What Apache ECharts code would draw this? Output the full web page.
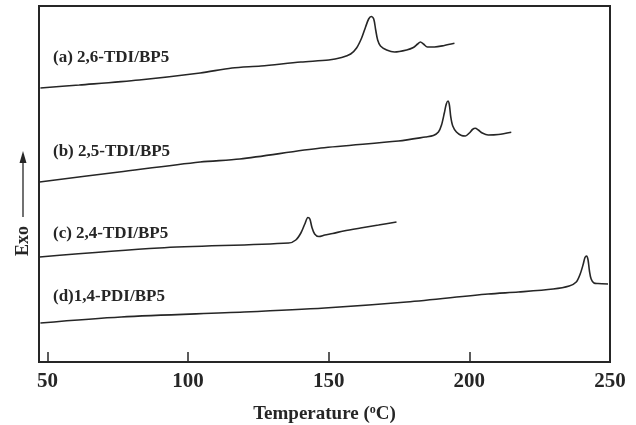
<!DOCTYPE html>
<html>
<head>
<meta charset="utf-8">
<script src="https://cdn.jsdelivr.net/npm/echarts@6/dist/echarts.min.js"></script>
<style>html,body{margin:0;padding:0;background:#fff;}#c{width:636px;height:425px;}</style>
</head>
<body>
<div id="c"></div>
<script>
// Temperature (°C) and relative heat-flow (arbitrary units, offset per curve)
const seriesNames = ['(a) 2,6-TDI/BP5', '(b) 2,5-TDI/BP5', '(c) 2,4-TDI/BP5', '(d)1,4-PDI/BP5'];
const curveA = [[47.5,274],[61.3,277],[82.6,282],[104.3,289],[115.6,294],[125.9,296],[140.1,300],[150.0,302],[154.6,304.5],[157.8,308],[159.9,314],[161.7,324],[163.1,335],[164.2,343],[165.1,345.5],[166.0,343],[166.7,332],[167.4,322],[168.4,316],[170.6,312],[173.4,310],[177.7,312],[180.1,314.5],[181.6,318],[182.6,320],[183.7,318],[185.1,315],[187.6,315],[191.1,316.5],[194.7,318.7]];
const curveB = [[47.2,180],[75.5,190],[104.3,200],[118.4,203],[147.2,214],[174.8,221],[184.4,225],[187.2,226.5],[189.0,230],[190.1,237],[191.1,249],[191.8,258],[192.4,261],[192.9,257],[193.4,245],[194.1,236],[195.4,230],[197.2,226.5],[198.6,226],[200.0,229],[201.1,232.5],[202.1,233.7],[203.2,232],[204.6,229],[206.7,227],[210.3,227.5],[214.9,229.7]];
const curveC = [[47.2,105],[89.7,114],[135.8,119],[138.3,122],[140.1,129],[141.5,138],[142.6,144.5],[143.3,143],[144.0,135],[145.0,128],[146.5,125.5],[148.6,127],[151.4,128.5],[155.3,131],[161.3,134],[167.7,137],[174.1,140]];
const curveD = [[47.5,39],[76.2,45],[119.9,50],[148.6,54],[177.7,60],[206.7,68],[217.4,70],[229.8,73],[235.5,76],[238.0,80],[239.4,88],[240.5,98],[241.1,104.5],[241.7,106],[242.2,102],[242.7,91],[243.3,83],[244.3,79],[245.7,78.5],[249.3,78]];
const tickLabels = [50, 100, 150, 200, 250];
const tickMarks = [50, 100, 150, 200];

const chart = echarts.init(document.getElementById('c'));
const font = '"Liberation Serif", "DejaVu Serif", serif';
const ink = '#262626';
const mk = (name, data) => ({
  name, type: 'line', data, showSymbol: false, symbol: 'none',
  smooth: 0.3,
  lineStyle: { color: ink, width: 1.6 }
});
const labelY = [59, 153, 235, 298];
chart.setOption({
  animation: false,
  backgroundColor: '#fff',
  grid: { left: 39, right: 26, top: 6, bottom: 63, show: true, borderColor: ink, borderWidth: 2, containLabel: false, outerBoundsMode: 'none' },
  xAxis: {
    type: 'value', min: 47, max: 250,
    name: '{t|Temperature (}{s|o}{t|C)}', nameLocation: 'middle', nameGap: 42,
    nameTextStyle: { rich: {
      t: { fontFamily: font, fontWeight: 'bold', fontSize: 19, color: ink },
      s: { fontFamily: font, fontWeight: 'bold', fontSize: 12, color: ink, verticalAlign: 'top', padding: [0, 0, 9, 0] }
    } },
    axisLine: { show: true, lineStyle: { color: ink, width: 2 } },
    axisTick: { show: true, inside: true, length: 10, lineStyle: { color: ink, width: 1.5 }, customValues: tickMarks },
    axisLabel: { show: true, customValues: tickLabels, margin: 9, fontFamily: font, fontWeight: 'bold', fontSize: 21, color: ink },
    splitLine: { show: false }
  },
  yAxis: {
    type: 'value', min: 0, max: 356,
    axisLine: { show: true, lineStyle: { color: ink, width: 2 } },
    axisTick: { show: false }, axisLabel: { show: false }, splitLine: { show: false }
  },
  series: [mk(seriesNames[0], curveA), mk(seriesNames[1], curveB), mk(seriesNames[2], curveC), mk(seriesNames[3], curveD)],
  graphic: [
    ...seriesNames.map((n, i) => ({
      type: 'text', left: 53, top: labelY[i] - 10,
      style: { text: n, font: 'bold 17px ' + font, fill: ink }
    })),
    { type: 'line', shape: { x1: 23, y1: 217, x2: 23, y2: 160 }, style: { stroke: ink, lineWidth: 1.3 } },
    { type: 'polygon', shape: { points: [[23, 151], [19.5, 163], [26.5, 163]] }, style: { fill: ink } },
    { type: 'text', x: 23, y: 241, rotation: Math.PI / 2,
      style: { text: 'Exo', font: 'bold 18px ' + font, fill: ink, align: 'center', verticalAlign: 'middle' } }
  ]
});
</script>
</body>
</html>
